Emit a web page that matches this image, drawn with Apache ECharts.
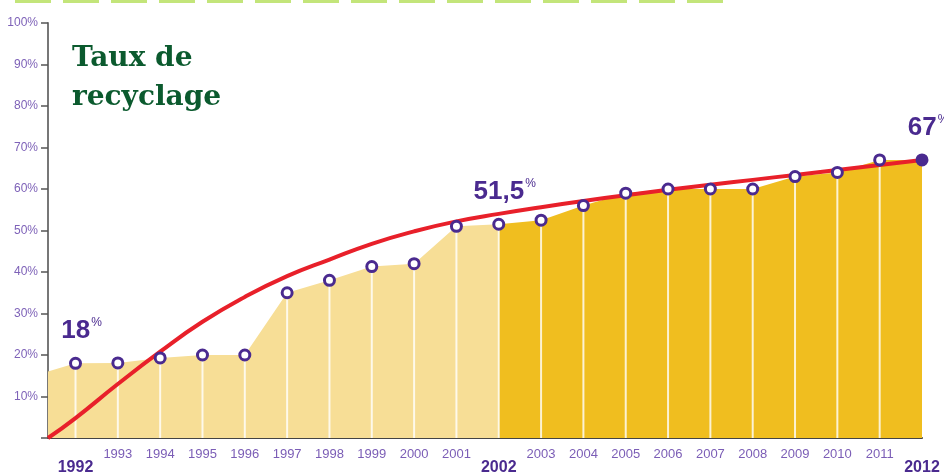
<!DOCTYPE html>
<html>
<head>
<meta charset="utf-8">
<title>Taux de recyclage</title>
<script src="https://cdn.jsdelivr.net/npm/echarts@6/dist/echarts.min.js"></script>
<style>
    html, body { margin: 0; padding: 0; background: #fff; }
    #chart { width: 944px; height: 473px; }
</style>
</head>
<body>
<div id="chart"></div>
<script>
// axe des x : début un peu avant 1992
var axisStart = 1991.35;
var areaStart = 16;

var years = [1992, 1993, 1994, 1995, 1996, 1997, 1998, 1999, 2000, 2001, 2002,
             2003, 2004, 2005, 2006, 2007, 2008, 2009, 2010, 2011, 2012];
var rates = [18, 18.1, 19.3, 20, 20, 35, 38, 41.3, 42, 51, 51.5,
             52.5, 56, 59, 60, 60, 60, 63, 64, 67, 67];

// courbe de tendance (rouge)
var trendYears = [1991.35, 1992, 1993, 1994, 1995, 1996, 1997, 1998, 1999, 2000, 2001, 2002,
                  2003, 2004, 2005, 2006, 2007, 2008, 2009, 2010, 2011, 2012];
var trendValues = [0, 4.8, 13, 20.8, 28, 34, 39, 43, 46.8, 49.8, 52.2, 54,
                   55.6, 57.1, 58.5, 59.8, 61, 62.2, 63.4, 64.6, 65.8, 67];

var yTicks = [0, 10, 20, 30, 40, 50, 60, 70, 80, 90, 100];
var boldYears = [1992, 2002, 2012];
var splitYear = 2002;

// étiquettes mises en avant
var calloutYears = [1992, 2002, 2012];
var calloutTexts = ['18', '51,5', '67'];

var purple = '#4A2A8F';

function pairs(xs, ys) {
    var out = [];
    for (var i = 0; i < xs.length; i++) {
        out.push([xs[i], ys[i]]);
    }
    return out;
}

function buildAreas() {
    var light = [[axisStart, areaStart]],
        dark = [];
    for (var i = 0; i < years.length; i++) {
        if (years[i] <= splitYear) light.push([years[i], rates[i]]);
        if (years[i] >= splitYear) dark.push([years[i], rates[i]]);
    }
    return { light: light, dark: dark };
}

function buildPoints() {
    var out = [];
    for (var i = 0; i < years.length; i++) {
        var item = { value: [years[i], rates[i]] };
        var k = calloutYears.indexOf(years[i]);
        if (k >= 0) {
            item.label = {
                show: true,
                position: 'top',
                distance: 12,
                offset: [6, 0],
                formatter: '{n|' + calloutTexts[k] + '}{p|%}'
            };
        }
        if (years[i] === 2012) {
            item.itemStyle = { color: purple };
        }
        out.push(item);
    }
    return out;
}

function drawChart() {
    var areas = buildAreas(),
        myChart = echarts.init(document.getElementById('chart')),
        option = {
            animation: false,
            title: {
                text: 'Taux de\nrecyclage',
                left: 67,
                top: 34,
                textStyle: {
                    fontFamily: 'DejaVu Serif',
                    fontWeight: 'bold',
                    fontSize: 28,
                    lineHeight: 39,
                    color: '#0B5A2E'
                }
            },
            graphic: [{
                type: 'line',
                shape: { x1: 15, y1: 1.5, x2: 729, y2: 1.5 },
                style: { stroke: '#C3E57A', lineWidth: 3, lineDash: [36, 12] }
            }],
            grid: { left: 48, right: 22, top: 23, bottom: 35, outerBoundsMode: 'none' },
            xAxis: {
                type: 'value',
                min: axisStart,
                max: 2012,
                axisLine: { onZero: false, lineStyle: { color: '#444', width: 2 } },
                axisTick: { show: false },
                splitLine: { show: false },
                axisLabel: {
                    customValues: years,
                    margin: 10,
                    formatter: function (v) {
                        if (boldYears.indexOf(v) >= 0) return '{b|' + v + '}';
                        return '{a|' + v + '}';
                    },
                    rich: {
                        a: { fontFamily: 'Liberation Sans', fontSize: 13, color: '#7B5DB6' },
                        b: { fontFamily: 'Liberation Sans', fontSize: 16, fontWeight: 'bold',
                             color: purple, padding: [12, 0, 0, 0] }
                    }
                }
            },
            yAxis: {
                type: 'value',
                min: 0,
                max: 100,
                interval: 10,
                axisLine: { show: true, onZero: false, lineStyle: { color: '#777', width: 2 } },
                axisTick: { show: true, length: 7, lineStyle: { color: '#555', width: 1.5 } },
                splitLine: { show: false },
                axisLabel: {
                    margin: 10,
                    fontFamily: 'Liberation Sans',
                    fontSize: 12,
                    color: '#7E62B8',
                    formatter: function (v) {
                        return v === 0 ? '' : v + '%';
                    }
                }
            },
            series: [
                {
                    type: 'line',
                    data: areas.light,
                    showSymbol: false,
                    lineStyle: { width: 0 },
                    areaStyle: { color: '#F7DE96', opacity: 1 },
                    z: 1
                },
                {
                    type: 'line',
                    data: areas.dark,
                    showSymbol: false,
                    lineStyle: { width: 0 },
                    areaStyle: { color: '#F0BE1F', opacity: 1 },
                    z: 1
                },
                {
                    // fines lignes blanches sous chaque point
                    type: 'bar',
                    data: pairs(years.slice(0, -1), rates.slice(0, -1)),
                    barWidth: 2,
                    itemStyle: { color: 'rgba(255,255,255,0.8)' },
                    z: 2
                },
                {
                    type: 'line',
                    data: pairs(trendYears, trendValues),
                    smooth: true,
                    showSymbol: false,
                    lineStyle: { color: '#E8202A', width: 4 },
                    z: 3
                },
                {
                    type: 'scatter',
                    data: buildPoints(),
                    symbol: 'circle',
                    symbolSize: 10,
                    itemStyle: { color: '#fff', borderColor: purple, borderWidth: 3, opacity: 1 },
                    label: {
                        color: purple,
                        textBorderWidth: 0,
                        rich: {
                            n: { fontFamily: 'Liberation Sans', fontSize: 26, fontWeight: 'bold',
                                 color: purple, lineHeight: 28 },
                            p: { fontFamily: 'Liberation Sans', fontSize: 12, color: purple,
                                 verticalAlign: 'top', lineHeight: 28, padding: [0, 0, 10, 1] }
                        }
                    },
                    z: 4
                }
            ]
        };

    myChart.setOption(option);
}

window.onload = function () {
    drawChart();
};
</script>
</body>
</html>
